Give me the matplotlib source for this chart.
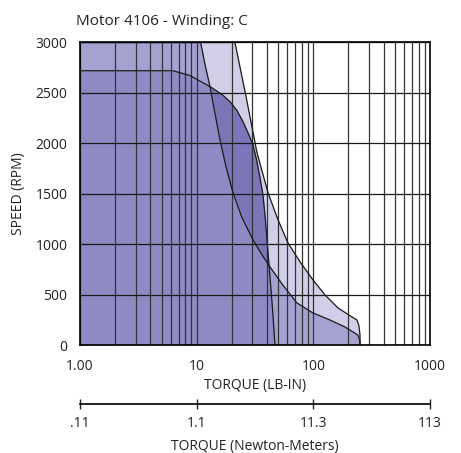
import numpy as np
import matplotlib.pyplot as plt
from matplotlib.ticker import LogLocator, FixedLocator, NullFormatter

plt.rcParams['font.family'] = ['Open Sans', 'DejaVu Sans']

# outer (light) envelope: torque lb-in, speed rpm
outer_torque = [1, 21.3, 26.5, 32.9, 40.9, 49.8, 60.6, 76.9, 99.3, 125.9, 162.7,
                214.5, 236.7, 246.3, 251.2, 251.2]
outer_speed = [3000, 3000, 2464, 1907, 1510, 1242, 1013, 825, 646, 497, 368,
               278, 248, 189, 99, 0]

# middle envelope
mid_torque = [1, 10.83, 11.79, 13.01, 14.36, 15.85, 17.84, 20.48, 24.47, 30.4, 36.3,
              42.5, 53.9, 72.4, 99.3, 138.9, 186.8, 241.4, 251.2, 251.2]
mid_speed = [3000, 3000, 2782, 2563, 2295, 2036, 1768, 1510, 1262, 1043, 894,
             775, 606, 417, 318, 248, 179, 99, 40, 0]

# plateau (continuous) envelope
cont_torque = [1, 6.27, 8.77, 13.01, 16.49, 19.31, 22.17, 24.95, 27.54, 30.4, 32.9,
               34.9, 37.0, 38.5, 40.1, 41.7, 43.4, 45.1, 46.9]
cont_speed = [2720, 2720, 2672, 2563, 2484, 2414, 2325, 2215, 2106, 1987, 1818,
              1659, 1490, 1291, 1043, 795, 546, 298, 0]

x_ticks = [1, 10, 100, 1000]
x_labels = ['1.00', '10', '100', '1000']
y_ticks = [0, 500, 1000, 1500, 2000, 2500, 3000]
nm_ticks = [0.113, 1.13, 11.3, 113]
nm_labels = ['.11', '1.1', '11.3', '113']

txt = '#222222'
fig = plt.figure(figsize=(4.61, 4.53), dpi=100)
ax = fig.add_axes([0.1735, 0.2384, 0.7592, 0.6678])

light = '#d1cfe7'
dark = '#7c76b9'
mid = '#9592c9'

ax.fill_between(outer_torque, outer_speed, 0, color=light, lw=0, zorder=0.5)
ax.fill_between(cont_torque, cont_speed, 0, color=dark, lw=0, zorder=0.6)
ax.fill_between(mid_torque, mid_speed, 0, color=mid, alpha=0.735, lw=0, zorder=0.7)

ax.set_xscale('log')
ax.set_xlim(1, 1000)
ax.set_ylim(0, 3000)
ax.xaxis.set_major_locator(FixedLocator(x_ticks))
ax.set_xticklabels(x_labels)
ax.xaxis.set_minor_locator(LogLocator(base=10, subs=np.arange(2, 10)))
ax.xaxis.set_minor_formatter(NullFormatter())
ax.set_yticks(y_ticks)

ax.set_axisbelow(False)
ax.grid(which='both', axis='x', color='#333333', lw=0.9)
ax.grid(which='major', axis='y', color='#1a1a1a', lw=0.9)

for t, s in [(outer_torque, outer_speed), (mid_torque, mid_speed), (cont_torque, cont_speed)]:
    ax.plot(t, s, color='#1a1a1a', lw=0.9, zorder=5)

for sp in ax.spines.values():
    sp.set_linewidth(1.2)
    sp.set_zorder(6)
ax.tick_params(which='both', length=0, labelsize=10, colors=txt)
ax.tick_params(axis='y', pad=9)
ax.tick_params(axis='x', pad=10)
ax.set_xlabel('TORQUE (LB-IN)', fontsize=10, labelpad=3, color=txt)
ax.set_ylabel('SPEED (RPM)', fontsize=10, labelpad=7, color=txt)
ax.text(-0.012, 1.045, 'Motor 4106 - Winding: C', transform=ax.transAxes,
        fontsize=11, color=txt, va='bottom', ha='left')

# Newton-meter scale
ax2 = fig.add_axes([0.1735, 1 - 404 / 453, 0.7592, 0.0001])
ax2.set_xscale('log')
ax2.set_xlim(0.113, 113)
ax2.set_yticks([])
for k in ['top', 'left', 'right']:
    ax2.spines[k].set_visible(False)
ax2.spines['bottom'].set_linewidth(1.2)
ax2.xaxis.set_major_locator(FixedLocator(nm_ticks))
ax2.set_xticklabels(nm_labels)
ax2.xaxis.set_minor_locator(FixedLocator([]))
ax2.tick_params(axis='x', direction='inout', length=7, width=1, labelsize=10,
                pad=5, colors=txt)
ax2.set_xlabel('TORQUE (Newton-Meters)', fontsize=10, labelpad=6, color=txt)
ax2.patch.set_visible(False)

fig.savefig('out.png', dpi=100)
